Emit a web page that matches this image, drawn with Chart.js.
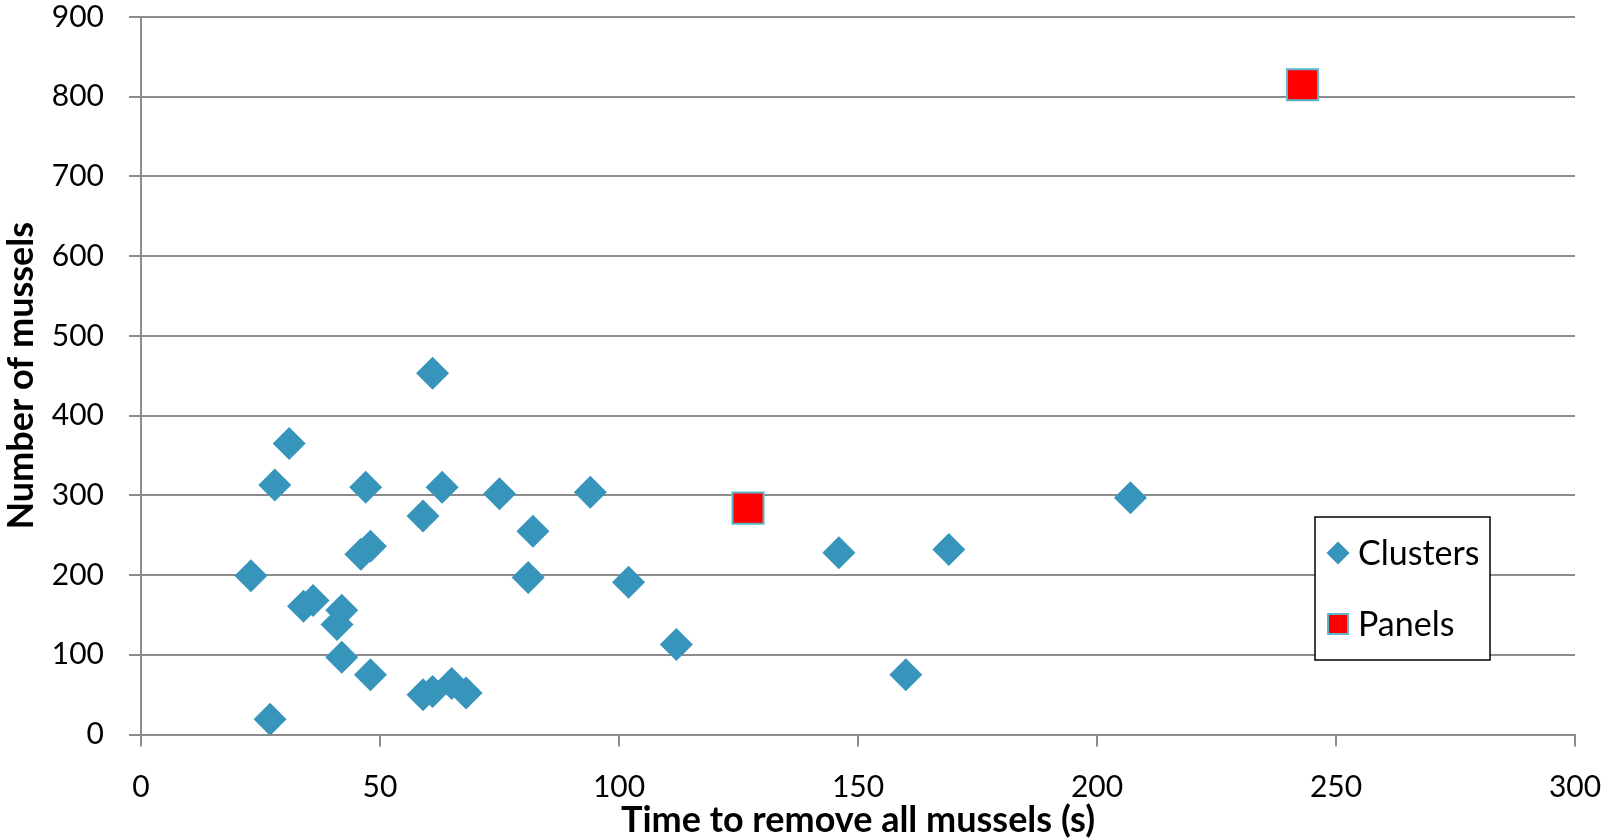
<!DOCTYPE html>
<html>
<head>
<meta charset="utf-8">
<title>Mussel removal time</title>
<script src="https://cdn.jsdelivr.net/npm/chart.js@4.4.0/dist/chart.umd.min.js"></script>
<style>
  html, body { margin: 0; padding: 0; background: #fff; }
  #wrap { width: 1611px; height: 839px; }
</style>
</head>
<body>
<div id="wrap"><canvas id="musselChart" width="1611" height="839"></canvas></div>
<script>
// ====== DATA ======
const clusterTimes  = [23, 27, 28, 31, 34, 36, 41, 42, 42, 46, 47, 48, 48, 59, 59, 61, 61, 63, 65, 68, 75, 81, 82, 94, 102, 112, 146, 160, 169, 207];
const clusterCounts = [199, 19, 313, 365, 161, 168, 138, 97, 156, 226, 310, 236, 75, 274, 50, 54, 453, 310, 64, 52, 302, 197, 255, 304, 191, 113, 228, 75, 232, 297];

const panelTimes  = [127, 243];
const panelCounts = [284, 815];

const xTicks = [0, 50, 100, 150, 200, 250, 300];
const yTicks = [0, 100, 200, 300, 400, 500, 600, 700, 800, 900];

// ====== STYLE ======
const FONT = "Lato, 'Open Sans', sans-serif";
const GRID = "#8c8c8c";
const BLUE = "#3795bb";
const RED = "#ff0000";
const TEAL = "#5cb8c9";

const toPoints = (xs, ys) => xs.map((x, i) => ({ x: x, y: ys[i] }));

// ====== LEGEND BOX (inside plot, lower right) ======
const boxLegend = {
  id: "boxLegend",
  afterDraw(chart) {
    const ctx = chart.ctx;
    const area = chart.chartArea;
    const left = area.right - 260;
    const top = area.top + 500;
    const w = 175, h = 143;

    ctx.save();
    ctx.fillStyle = "#fff";
    ctx.fillRect(left, top, w, h);
    ctx.strokeStyle = "#000";
    ctx.lineWidth = 1.5;
    ctx.strokeRect(left, top, w, h);

    ctx.font = "34px " + FONT;
    ctx.textBaseline = "middle";

    chart.data.datasets.forEach((ds, i) => {
      const cy = top + 36 + i * 71;
      const cx = left + 23;
      if (ds.pointStyle === "rectRot") {
        ctx.beginPath();
        ctx.moveTo(cx - 11.5, cy);
        ctx.lineTo(cx, cy - 11.5);
        ctx.lineTo(cx + 11.5, cy);
        ctx.lineTo(cx, cy + 11.5);
        ctx.closePath();
        ctx.fillStyle = ds.backgroundColor;
        ctx.fill();
      } else {
        ctx.fillStyle = ds.backgroundColor;
        ctx.fillRect(cx - 10, cy - 10, 20, 20);
        ctx.strokeStyle = ds.borderColor;
        ctx.lineWidth = 2;
        ctx.strokeRect(cx - 10, cy - 10, 20, 20);
      }
      ctx.fillStyle = "#000";
      ctx.fillText(ds.label, left + 43, cy + 1);
    });
    ctx.restore();
  }
};

// ====== CHART ======
new Chart(document.getElementById("musselChart"), {
  type: "scatter",
  data: {
    datasets: [
      {
        label: "Clusters",
        data: toPoints(clusterTimes, clusterCounts),
        pointStyle: "rectRot",
        pointRadius: 16.5,
        pointHoverRadius: 16.5,
        backgroundColor: BLUE,
        borderColor: BLUE,
        borderWidth: 0
      },
      {
        label: "Panels",
        data: toPoints(panelTimes, panelCounts),
        pointStyle: "rect",
        pointRadius: 22,
        pointHoverRadius: 22,
        backgroundColor: RED,
        borderColor: TEAL,
        borderWidth: 2
      }
    ]
  },
  options: {
    responsive: false,
    animation: false,
    devicePixelRatio: 1,
    layout: { autoPadding: false, padding: { top: 17, right: 36, bottom: 0, left: 0 } },
    plugins: {
      legend: { display: false },
      tooltip: { enabled: false }
    },
    scales: {
      x: {
        type: "linear",
        min: 0,
        max: 300,
        afterBuildTicks: (scale) => { scale.ticks = xTicks.map(v => ({ value: v })); },
        afterFit: (scale) => {
          scale.height = 104.5;
          scale.paddingLeft = 0;
          scale.paddingRight = 0;
        },
        grid: { drawOnChartArea: false, color: GRID, lineWidth: 2, tickLength: 12 },
        border: { color: GRID, width: 2 },
        ticks: { font: { family: FONT, size: 30, lineHeight: 1 }, color: "#000", padding: 26, maxRotation: 0 },
        title: {
          display: true,
          text: "Time to remove all mussels (s)",
          font: { family: FONT, size: 36, weight: "bold", lineHeight: 1 },
          color: "#000",
          padding: { top: 0, bottom: 1 }
        }
      },
      y: {
        min: 0,
        max: 900,
        afterBuildTicks: (scale) => { scale.ticks = yTicks.map(v => ({ value: v })); },
        afterFit: (scale) => {
          scale.width = 141;
          scale.paddingTop = 0;
          scale.paddingBottom = 0;
        },
        grid: { color: GRID, lineWidth: 2, tickLength: 12 },
        border: { color: GRID, width: 2 },
        ticks: { font: { family: FONT, size: 30, lineHeight: 1 }, color: "#000", padding: 25 },
        title: {
          display: true,
          text: "Number of mussels",
          font: { family: FONT, size: 36, weight: "bold" },
          color: "#000",
          padding: { top: 0, bottom: 0 }
        }
      }
    }
  },
  plugins: [boxLegend]
});
</script>
</body>
</html>
